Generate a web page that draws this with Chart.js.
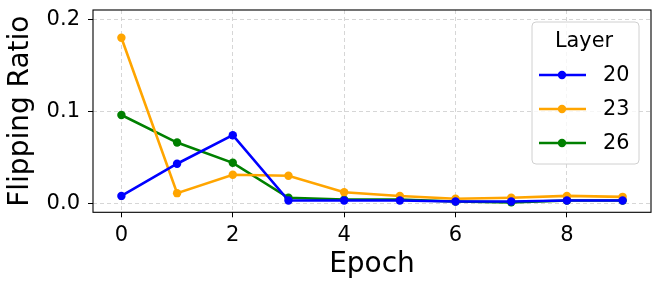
<!DOCTYPE html>
<html>
<head>
<meta charset="utf-8">
<script src="https://cdn.jsdelivr.net/npm/chart.js@4/dist/chart.umd.min.js"></script>
<style>
  html, body { margin: 0; padding: 0; background: #fff; }
  #wrap { width: 660px; height: 290px; }
</style>
</head>
<body>
<div id="wrap"><canvas id="chart"></canvas></div>
<script>
// data
const epochs = [0, 1, 2, 3, 4, 5, 6, 7, 8, 9];
const layerNames = ['20', '23', '26'];
const layer20 = [0.008, 0.043, 0.074, 0.003, 0.003, 0.003, 0.002, 0.002, 0.003, 0.003];
const layer23 = [0.180, 0.011, 0.031, 0.030, 0.012, 0.008, 0.005, 0.006, 0.008, 0.007];
const layer26 = [0.096, 0.066, 0.044, 0.006, 0.004, 0.004, 0.002, 0.001, 0.003, 0.003];
const xTicks = [0, 2, 4, 6, 8];
const yTicks = [0.0, 0.1, 0.2];

const colors = ['#0000ff', '#ffa500', '#008000'];
const FONT = "'DejaVu Sans', sans-serif";

function makeSet(name, vals, color) {
    return {
        label: name,
        data: epochs.map((e, i) => ({ x: e, y: vals[i] })),
        borderColor: color,
        backgroundColor: color,
        borderWidth: 2.6,
        pointRadius: 4.2,
        pointBorderWidth: 0,
        pointBackgroundColor: color,
        tension: 0
    };
}

// black frame around the plot area
const frame = {
    id: 'frame',
    afterDraw(chart) {
        const { ctx, chartArea: a } = chart;
        ctx.save();
        ctx.strokeStyle = '#000';
        ctx.lineWidth = 1.1;
        ctx.strokeRect(a.left, a.top, a.right - a.left, a.bottom - a.top);
        ctx.restore();
    }
};

// matplotlib-like legend in the top right corner
const boxLegend = {
    id: 'boxLegend',
    afterDraw(chart) {
        const ctx = chart.ctx;
        const x = 532, y = 22, w = 107, h = 142, r = 4;
        ctx.save();
        ctx.beginPath();
        ctx.roundRect(x, y, w, h, r);
        ctx.fillStyle = 'rgba(255,255,255,0.8)';
        ctx.fill();
        ctx.strokeStyle = '#d0d0d0';
        ctx.lineWidth = 1;
        ctx.stroke();

        ctx.fillStyle = '#000';
        ctx.font = '20.8px ' + FONT;
        ctx.textAlign = 'center';
        ctx.textBaseline = 'middle';
        ctx.fillText('Layer', 584, 42);

        const rows = [75, 109, 143];
        chart.data.datasets.forEach((ds, i) => {
            const yy = rows[i];
            ctx.strokeStyle = ds.borderColor;
            ctx.lineWidth = 2.6;
            ctx.beginPath();
            ctx.moveTo(539, yy);
            ctx.lineTo(586, yy);
            ctx.stroke();
            ctx.fillStyle = ds.borderColor;
            ctx.beginPath();
            ctx.arc(562, yy, 4.2, 0, Math.PI * 2);
            ctx.fill();
            ctx.fillStyle = '#000';
            ctx.textAlign = 'left';
            ctx.fillText(ds.label, 603, yy + 1);
        });
        ctx.restore();
    }
};

const ctx = document.getElementById('chart').getContext('2d');
new Chart(ctx, {
    type: 'line',
    data: {
        datasets: [
            makeSet(layerNames[0], layer20, colors[0]),
            makeSet(layerNames[1], layer23, colors[1]),
            makeSet(layerNames[2], layer26, colors[2])
        ]
    },
    options: {
        responsive: true,
        maintainAspectRatio: false,
        animation: false,
        layout: { padding: { left: 0, right: 9, top: 10, bottom: 0 } },
        plugins: {
            legend: { display: false },
            tooltip: { enabled: false }
        },
        scales: {
            x: {
                type: 'linear',
                min: -0.51,
                max: 9.51,
                afterBuildTicks: s => { s.ticks = xTicks.map(v => ({ value: v })); },
                afterFit: s => { s.height = 77.7; s.paddingLeft = 0; s.paddingRight = 0; },
                ticks: {
                    color: '#000',
                    font: { family: FONT, size: 21 },
                    padding: 6,
                    maxRotation: 0,
                    callback: v => String(v)
                },
                grid: {
                    color: '#cccccc',
                    lineWidth: 0.8,
                    tickColor: '#000',
                    tickLength: 5,
                    tickWidth: 1
                },
                border: { display: false, dash: [4, 3] },
                title: {
                    display: true,
                    text: 'Epoch',
                    color: '#000',
                    font: { family: FONT, size: 28 },
                    padding: { top: 0, bottom: 8 }
                }
            },
            y: {
                min: -0.0098,
                max: 0.2101,
                afterBuildTicks: s => { s.ticks = yTicks.map(v => ({ value: v })); },
                afterFit: s => { s.width = 93; s.paddingTop = 0; s.paddingBottom = 0; },
                ticks: {
                    color: '#000',
                    font: { family: FONT, size: 21 },
                    padding: 8,
                    callback: v => v.toFixed(1)
                },
                grid: {
                    color: '#cccccc',
                    lineWidth: 0.8,
                    tickColor: '#000',
                    tickLength: 5,
                    tickWidth: 1
                },
                border: { display: false, dash: [4, 3] },
                title: {
                    display: true,
                    text: 'Flipping Ratio',
                    color: '#000',
                    font: { family: FONT, size: 28 },
                    padding: { top: 4, bottom: 0 }
                }
            }
        }
    },
    plugins: [frame, boxLegend]
});
</script>
</body>
</html>
